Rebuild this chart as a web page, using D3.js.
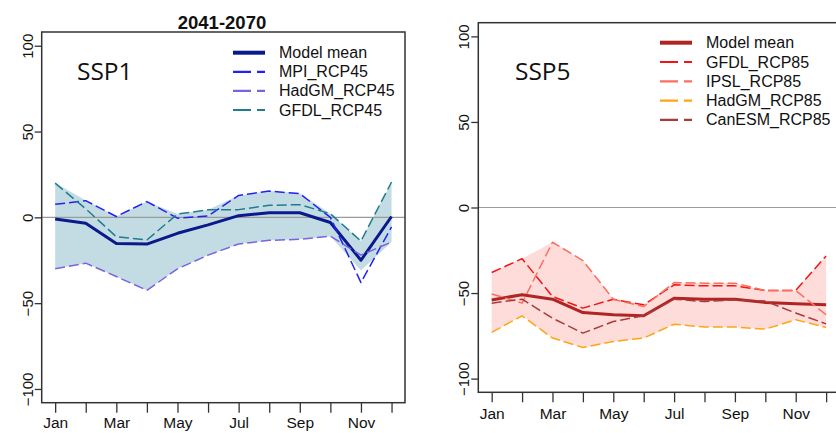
<!DOCTYPE html>
<html>
<head>
<meta charset="utf-8">
<script src="https://cdn.jsdelivr.net/npm/d3@7"></script>
<style>
  body { margin: 0; background: #fff; }
  svg { display: block; font-family: "Liberation Sans", Arial, sans-serif; }
</style>
</head>
<body>
<svg width="836" height="433"></svg>
<script>
// monthly change (%) per model
var months = ['Jan','Feb','Mar','Apr','May','Jun','Jul','Aug','Sep','Oct','Nov','Dec'];
var yTicks = [-100, -50, 0, 50, 100];

var ssp1Mean  = [-0.9, -3.4, -15.2, -15.6, -9.3, -4.4, 1.0, 2.7, 2.7, -3.0, -25.0, 0.5];
var ssp1MPI   = [7.6, 9.7, 0.5, 9.2, -0.5, 0.8, 12.8, 15.3, 13.8, 0.0, -38.0, -5.6];
var ssp1HadGM = [-30.0, -26.7, -34.5, -42.5, -30.0, -22.0, -15.5, -13.4, -12.8, -11.0, -22.0, -14.4];
var ssp1GFDL  = [19.9, 5.0, -11.3, -13.2, 1.9, 4.4, 4.5, 7.0, 7.4, 2.1, -13.8, 20.6];
var ssp1BandHi = [20, 10, 0.5, 9.2, 1.9, 4.5, 12.8, 15.3, 14, 2.1, -13.8, 20.6];
var ssp1BandLo = [-30, -26.7, -34.5, -42.5, -30, -22, -15.5, -13.4, -12.8, -11, -31, -14.4];

var ssp5Mean   = [-54.0, -51.0, -53.6, -61.4, -62.7, -63.3, -53.0, -53.6, -53.6, -55.5, -56.3, -56.9];
var ssp5GFDL   = [-38.0, -29.9, -52.0, -58.8, -53.6, -56.9, -45.2, -45.8, -45.8, -48.5, -48.5, -28.3];
var ssp5IPSL   = [-50.5, -55.9, -20.3, -31.0, -53.6, -57.9, -43.9, -44.2, -44.2, -48.5, -48.5, -62.7];
var ssp5HadGM  = [-73.0, -63.3, -76.3, -81.8, -78.3, -76.3, -68.2, -69.9, -69.9, -71.1, -65.6, -70.1];
var ssp5CanESM = [-55.9, -53.6, -64.7, -73.4, -66.6, -63.3, -53.6, -55.0, -54.0, -54.7, -61.7, -68.0];
var ssp5BandHi = [-38, -29.9, -20.3, -31, -53.6, -56.9, -43.9, -44.2, -44.2, -48.5, -48.5, -28.3];
var ssp5BandLo = [-73, -63.3, -76.3, -81.8, -78.3, -76.3, -68.2, -69.9, -69.9, -71.1, -65.6, -70.1];

var svg = d3.select('svg');

function drawPanel(p) {
  var x = d3.scaleLinear().domain([0.56, 12.44]).range([p.left, p.right]);
  var y = d3.scaleLinear().domain([-108, 108]).range([p.bottom, p.top]);
  var g = svg.append('g');

  // clip so the right panel runs off the edge like the picture
  var clipId = 'clip' + p.id;
  g.append('clipPath').attr('id', clipId)
    .append('rect')
    .attr('x', p.left).attr('y', p.top)
    .attr('width', p.right - p.left).attr('height', p.bottom - p.top);

  var plot = g.append('g').attr('clip-path', 'url(#' + clipId + ')');

  var band = d3.area()
    .x(function(d, i) { return x(i + 1); })
    .y0(function(d, i) { return y(p.bandLo[i]); })
    .y1(function(d) { return y(d); });

  plot.append('path')
    .datum(p.bandHi)
    .attr('d', band)
    .attr('fill', p.bandColor);

  plot.append('line')
    .attr('x1', p.left).attr('x2', p.right)
    .attr('y1', y(0)).attr('y2', y(0))
    .attr('stroke', '#9a9a9a').attr('stroke-width', 1.2);

  var line = d3.line()
    .x(function(d, i) { return x(i + 1); })
    .y(function(d) { return y(d); });

  p.series.forEach(function(s) {
    plot.append('path')
      .datum(s.values)
      .attr('d', line)
      .attr('fill', 'none')
      .attr('stroke', s.color)
      .attr('stroke-width', s.dashed ? 1.5 : 3)
      .attr('stroke-dasharray', s.dashed ? '10,4' : null)
      .attr('stroke-linejoin', 'round');
  });

  // box
  g.append('rect')
    .attr('x', p.left).attr('y', p.top)
    .attr('width', p.right - p.left).attr('height', p.bottom - p.top)
    .attr('fill', 'none').attr('stroke', '#333').attr('stroke-width', 1.5);

  var xAxis = d3.axisBottom(x)
    .tickValues(d3.range(1, 13))
    .tickSize(10)
    .tickPadding(p.xPad)
    .tickFormat(function(d) { return d % 2 === 1 ? months[d - 1] : ''; });

  var gx = g.append('g')
    .attr('transform', 'translate(0,' + p.bottom + ')')
    .call(xAxis);
  gx.select('.domain').remove();
  gx.selectAll('line').attr('stroke', '#333').attr('stroke-width', 1.3);
  gx.selectAll('text').attr('font-size', 15.5).attr('fill', '#111')
    .attr('font-family', '"Liberation Sans", Arial, sans-serif');

  var yAxis = d3.axisLeft(y).tickValues(yTicks).tickSize(7).tickFormat(d3.format('d'));
  var gy = g.append('g')
    .attr('transform', 'translate(' + p.left + ',0)')
    .call(yAxis);
  gy.select('.domain').remove();
  gy.selectAll('line').attr('stroke', '#333').attr('stroke-width', 1.3);
  gy.selectAll('text')
    .attr('font-size', 15).attr('fill', '#111')
    .attr('font-family', '"Liberation Sans", Arial, sans-serif')
    .attr('x', null).attr('dy', null)
    .attr('text-anchor', 'middle')
    .attr('transform', 'translate(-9,0) rotate(-90)');

  // panel label
  g.append('text')
    .attr('x', p.labelX).attr('y', p.labelY)
    .attr('font-family', '"Open Sans", "Noto Sans", sans-serif')
    .attr('font-size', 24.5)
    .attr('fill', '#111')
    .text(p.label);

  // legend
  var leg = g.append('g');
  var rows = [{ name: 'Model mean', color: p.series[0].color, dashed: false }]
    .concat(p.series.slice(1).map(function(s) { return { name: s.name, color: s.color, dashed: true }; }));
  rows.forEach(function(r, i) {
    var yy = p.legY + i * p.legStep;
    leg.append('line')
      .attr('x1', p.legX).attr('x2', p.legX + 32)
      .attr('y1', yy).attr('y2', yy)
      .attr('stroke', r.color)
      .attr('stroke-width', r.dashed ? 2.2 : 4)
      .attr('stroke-dasharray', r.dashed ? '18,6' : null);
    leg.append('text')
      .attr('x', p.legX + 46).attr('y', yy + 5.5)
      .attr('font-size', 16).attr('fill', '#111')
      .text(r.name);
  });
}

drawPanel({
  id: 1, left: 41.7, right: 405, top: 32, bottom: 402.7, xPad: 4.5,
  label: 'SSP1', labelX: 77, labelY: 80,
  legX: 233, legY: 52.7, legStep: 19.1,
  bandColor: '#c3dce4', bandHi: ssp1BandHi, bandLo: ssp1BandLo,
  series: [
    { name: 'Model mean', values: ssp1Mean, color: '#0a1a8c' },
    { name: 'MPI_RCP45', values: ssp1MPI, color: '#2323f0', dashed: true },
    { name: 'HadGM_RCP45', values: ssp1HadGM, color: '#7a63e0', dashed: true },
    { name: 'GFDL_RCP45', values: ssp1GFDL, color: '#1f7c90', dashed: true }
  ]
});

drawPanel({
  id: 5, left: 478.3, right: 839.5, top: 22.7, bottom: 392.3, xPad: 6,
  label: 'SSP5', labelX: 515, labelY: 80,
  legX: 660, legY: 42.7, legStep: 19.3,
  bandColor: '#fddcda', bandHi: ssp5BandHi, bandLo: ssp5BandLo,
  series: [
    { name: 'Model mean', values: ssp5Mean, color: '#b02424' },
    { name: 'GFDL_RCP85', values: ssp5GFDL, color: '#f41414', dashed: true },
    { name: 'IPSL_RCP85', values: ssp5IPSL, color: '#fb6f5f', dashed: true },
    { name: 'HadGM_RCP85', values: ssp5HadGM, color: '#ffa514', dashed: true },
    { name: 'CanESM_RCP85', values: ssp5CanESM, color: '#a83a3a', dashed: true }
  ]
});

svg.append('text')
  .attr('x', 222).attr('y', 29)
  .attr('text-anchor', 'middle')
  .attr('font-size', 18.5).attr('font-weight', 'bold').attr('fill', '#111')
  .text('2041-2070');
</script>
</body>
</html>
